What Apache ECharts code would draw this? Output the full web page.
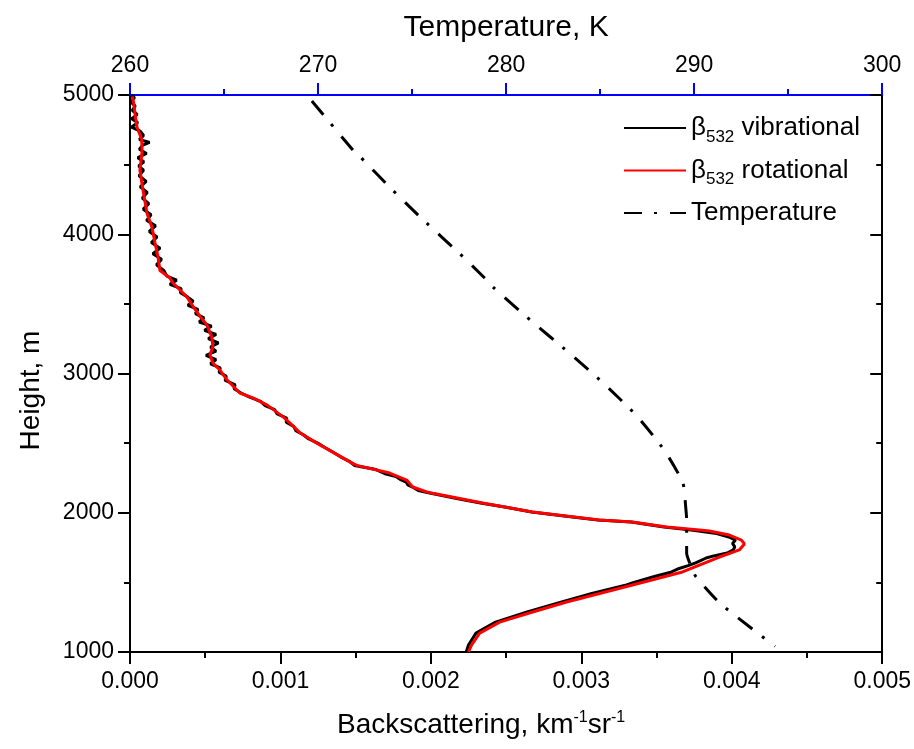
<!DOCTYPE html>
<html>
<head>
<meta charset="utf-8">
<script src="https://cdn.jsdelivr.net/npm/echarts@6/dist/echarts.min.js"></script>
<style>
  html, body { margin: 0; padding: 0; background: #fff; }
  #chart { width: 914px; height: 749px; }
</style>
</head>
<body>
<div id="chart"></div>
<script>
// backscattering in units of 1e-3 km^-1 sr^-1, height in m
const rotHeight = [4990, 4940, 4870, 4770, 4680, 4590, 4460, 4320, 4150, 4050, 3940, 3840, 3740, 3690, 3650, 3550, 3480, 3410, 3350, 3260, 3190, 3135, 3075, 3025, 2955, 2860, 2825, 2775, 2690, 2645, 2575, 2500, 2435, 2365, 2340, 2285, 2235, 2185, 2150, 2140, 2070, 2005, 1948, 1934, 1898, 1876, 1869, 1840, 1804, 1776, 1733, 1682, 1575, 1481, 1359, 1287, 1215, 1136, 1050, 1000]
const rotBeta = [0.015, 0.025, 0.033, 0.046, 0.078, 0.080, 0.066, 0.086, 0.113, 0.146, 0.166, 0.186, 0.199, 0.262, 0.286, 0.378, 0.420, 0.465, 0.511, 0.544, 0.551, 0.531, 0.551, 0.598, 0.644, 0.730, 0.817, 0.910, 1.016, 1.062, 1.129, 1.242, 1.348, 1.461, 1.507, 1.726, 1.839, 1.879, 1.972, 2.012, 2.344, 2.676, 3.121, 3.340, 3.566, 3.785, 3.851, 3.984, 4.064, 4.084, 4.050, 3.918, 3.672, 3.340, 2.902, 2.676, 2.457, 2.324, 2.270, 2.250]

const vibHeight = [5000, 4980, 4950, 4920, 4890, 4860, 4830, 4800, 4770, 4740, 4710, 4680, 4660, 4640, 4610, 4580, 4550, 4520, 4490, 4460, 4420, 4380, 4340, 4300, 4260, 4220, 4180, 4140, 4100, 4060, 4020, 3980, 3940, 3900, 3860, 3820, 3780, 3740, 3700, 3670, 3640, 3610, 3580, 3550, 3520, 3490, 3460, 3430, 3400, 3370, 3340, 3310, 3280, 3250, 3220, 3190, 3160, 3130, 3100, 3070, 3040, 3010, 2980, 2950, 2920, 2890, 2860, 2830, 2800, 2770, 2740, 2710, 2680, 2650, 2620, 2590, 2560, 2530, 2500, 2470, 2440, 2400, 2370, 2340, 2310, 2280, 2260, 2240, 2220, 2200, 2180, 2160, 2140, 2100, 2070, 2040, 2005, 1975, 1948, 1934, 1898, 1876, 1850, 1826, 1804, 1780, 1755, 1733, 1711, 1690, 1675, 1640, 1620, 1600, 1575, 1540, 1500, 1481, 1420, 1359, 1287, 1215, 1136, 1050, 1000]
const vibBeta = [0.010, 0.030, 0.005, 0.035, 0.015, 0.048, 0.012, 0.052, 0.010, 0.068, 0.090, 0.062, 0.130, 0.085, 0.062, 0.110, 0.052, 0.092, 0.058, 0.090, 0.060, 0.108, 0.068, 0.115, 0.082, 0.125, 0.088, 0.140, 0.110, 0.170, 0.128, 0.180, 0.142, 0.200, 0.152, 0.210, 0.176, 0.225, 0.245, 0.310, 0.265, 0.340, 0.335, 0.382, 0.420, 0.385, 0.452, 0.435, 0.492, 0.460, 0.542, 0.495, 0.572, 0.520, 0.588, 0.535, 0.572, 0.505, 0.572, 0.535, 0.600, 0.592, 0.640, 0.632, 0.698, 0.692, 0.738, 0.795, 0.868, 0.898, 0.962, 0.978, 1.042, 1.038, 1.088, 1.102, 1.152, 1.188, 1.248, 1.292, 1.342, 1.402, 1.458, 1.492, 1.635, 1.695, 1.768, 1.795, 1.836, 1.846, 1.886, 1.916, 2.000, 2.180, 2.330, 2.500, 2.670, 2.900, 3.110, 3.330, 3.550, 3.730, 3.900, 3.980, 4.025, 4.005, 4.020, 4.010, 3.970, 3.880, 3.830, 3.760, 3.710, 3.650, 3.600, 3.480, 3.350, 3.300, 3.070, 2.870, 2.640, 2.430, 2.300, 2.250, 2.235]

const tempHeight = [4957, 4605, 4570, 4555, 4339, 4102, 3865, 3686, 3621, 3370, 3154, 2939, 2702, 2451, 2214, 2041, 1948, 1711, 1610, 1539, 1373, 1280, 1040]
const tempK = [269.67, 271.85, 272.1, 272.25, 273.8, 275.6, 277.5, 278.86, 279.3, 281.4, 283.3, 285.1, 286.9, 288.4, 289.4, 289.55, 289.6, 289.6, 289.85, 290.1, 291.2, 292.0, 294.3]

const legendNames = ['vib', 'rot', 'Temperature']
const legendText = {
  vib: '{t|β}{s|532}{t| vibrational}',
  rot: '{t|β}{s|532}{t| rotational}',
  Temperature: '{t|Temperature}'
}

const font = 'Liberation Sans, Arial, sans-serif'

function pairs(xs, ys, k) {
  return xs.map((x, i) => [x * k, ys[i]])
}

const chart = echarts.init(document.getElementById('chart'))

const option = {
  backgroundColor: '#fff',
  animation: false,
  textStyle: { fontFamily: font, color: '#000' },
  grid: { left: 130, right: 31, top: 95, bottom: 97 },
  legend: {
    orient: 'vertical',
    left: 618,
    top: 110,
    itemWidth: 62,
    itemHeight: 14,
    itemGap: 12,
    data: legendNames,
    itemStyle: { opacity: 0 },
    formatter: name => legendText[name],
    textStyle: {
      rich: {
        t: { fontSize: 26, fontFamily: font, color: '#000' },
        s: { fontSize: 17, fontFamily: font, color: '#000', verticalAlign: 'bottom', padding: [18, 0, 0, 0] }
      }
    }
  },
  xAxis: [
    {
      type: 'value',
      position: 'bottom',
      min: 0,
      max: 0.005,
      interval: 0.001,
      name: '{t|Backscattering, km}{s|-1}{t|sr}{s|-1}',
      nameLocation: 'middle',
      nameGap: 58,
      nameTextStyle: {
        padding: [0, 50, 0, 0],
        rich: {
          t: { fontSize: 28, fontFamily: font, color: '#000' },
          s: { fontSize: 16, fontFamily: font, color: '#000', verticalAlign: 'top', padding: [0, 0, 14, 0] }
        }
      },
      axisLine: { show: true, onZero: false, lineStyle: { color: '#000', width: 2 } },
      axisTick: { show: true, inside: false, length: 12, lineStyle: { color: '#000', width: 2 } },
      minorTick: { show: true, splitNumber: 2, length: 6, lineStyle: { color: '#000', width: 2 } },
      axisLabel: { fontSize: 23, color: '#000', margin: 18, formatter: v => v.toFixed(3) },
      splitLine: { show: false }
    },
    {
      type: 'value',
      position: 'top',
      min: 260,
      max: 300,
      interval: 10,
      name: 'Temperature, K',
      nameLocation: 'middle',
      nameGap: 52,
      nameTextStyle: { fontSize: 30, color: '#000' },
      axisLine: { show: true, onZero: false, lineStyle: { color: '#0000ff', width: 2 } },
      axisTick: { show: true, inside: false, length: 12, lineStyle: { color: '#0000ff', width: 2 } },
      minorTick: { show: true, splitNumber: 2, length: 6, lineStyle: { color: '#0000ff', width: 2 } },
      axisLabel: { fontSize: 23, color: '#000', margin: 18 },
      splitLine: { show: false }
    }
  ],
  yAxis: [
    {
      type: 'value',
      position: 'left',
      min: 1000,
      max: 5000,
      interval: 1000,
      name: 'Height, m',
      nameLocation: 'middle',
      nameGap: 85,
      nameTextStyle: { fontSize: 28, color: '#000', padding: [0, 34, 0, 0] },
      axisLine: { show: true, onZero: false, lineStyle: { color: '#000', width: 2 } },
      axisTick: { show: true, inside: false, length: 12, lineStyle: { color: '#000', width: 2 } },
      minorTick: { show: true, splitNumber: 2, length: 6, lineStyle: { color: '#000', width: 2 } },
      axisLabel: { fontSize: 23, color: '#000', margin: 16, formatter: v => String(v) },
      splitLine: { show: false }
    },
    {
      type: 'value',
      position: 'right',
      min: 1000,
      max: 5000,
      interval: 1000,
      axisLine: { show: true, onZero: false, lineStyle: { color: '#000', width: 2 } },
      axisTick: { show: true, inside: true, length: 12, lineStyle: { color: '#000', width: 2 } },
      minorTick: { show: true, splitNumber: 2, length: 6, lineStyle: { color: '#000', width: 2 } },
      axisLabel: { show: false },
      splitLine: { show: false }
    }
  ],
  series: [
    {
      name: 'vib',
      type: 'line',
      xAxisIndex: 0,
      yAxisIndex: 0,
      symbol: 'none',
      lineStyle: { color: '#000', width: 3 },
      itemStyle: { color: '#000' },
      data: pairs(vibBeta, vibHeight, 1e-3)
    },
    {
      name: 'rot',
      type: 'line',
      xAxisIndex: 0,
      yAxisIndex: 0,
      symbol: 'none',
      lineStyle: { color: '#ff0000', width: 3 },
      itemStyle: { color: '#ff0000' },
      data: pairs(rotBeta, rotHeight, 1e-3)
    },
    {
      name: 'Temperature',
      type: 'line',
      xAxisIndex: 1,
      yAxisIndex: 0,
      symbol: 'none',
      smooth: 0.2,
      lineStyle: { color: '#000', width: 3, type: [18, 12, 3, 13] },
      itemStyle: { color: '#000' },
      data: pairs(tempK, tempHeight, 1)
    }
  ]
}

chart.setOption(option)
</script>
</body>
</html>
